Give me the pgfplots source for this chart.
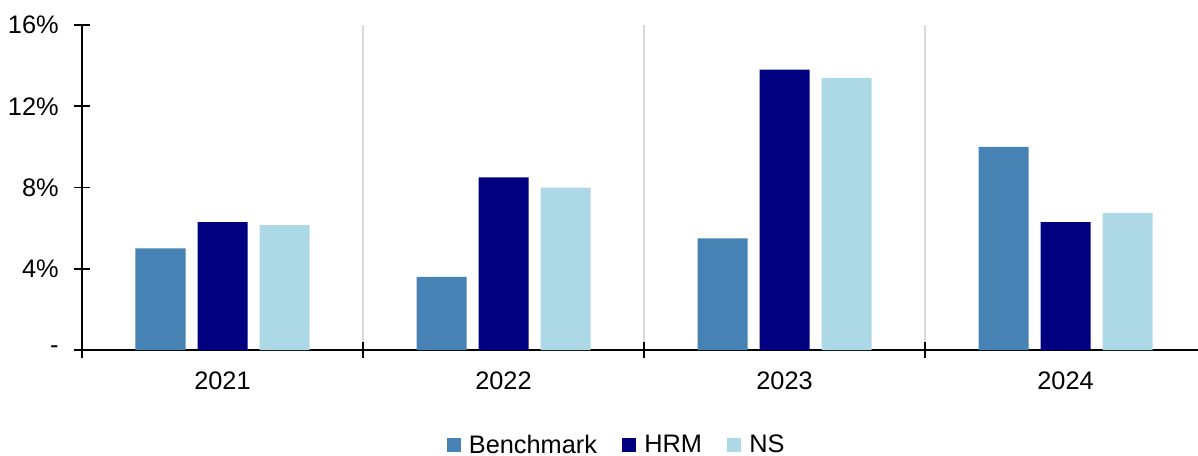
\documentclass[border=0pt]{standalone}
\usepackage{pgfplots}
\pgfplotsset{compat=1.18}
\usepackage{fontspec}
\setmainfont{Liberation Sans}
\definecolor{cBench}{RGB}{70,130,180}
\definecolor{cHRM}{RGB}{0,0,128}
\definecolor{cNS}{RGB}{173,216,230}
\definecolor{cGrid}{RGB}{217,217,217}
\newcommand{\cfont}{\fontsize{19}{22}\selectfont}
\begin{document}
\begin{tikzpicture}
\begin{axis}[
  scale only axis,
  width=843pt, height=243.75pt,
  xmin=-0.5, xmax=3.5,
  ymin=0, ymax=16,
  axis x line*=bottom, axis y line*=left,
  xtick pos=bottom, ytick pos=left,
  axis line style={-, line width=1.3pt, black},
  xtick={-0.5,0.5,1.5,2.5},
  xticklabels={},
  extra x ticks={0,1,2,3},
  extra x tick labels={2021,2022,2023,2024},
  extra x tick style={major tick length=0pt, grid=none},
  xmajorgrids=true,
  major grid style={cGrid, line width=1pt},
  ytick={0,4,8,12,16},
  yticklabels={-,4\%,8\%,12\%,16\%},
  major tick length=12pt,
  tick style={black, line width=1.3pt},
  /pgf/number format/assume math mode=true,
  every tick label/.append style={font=\cfont},
  xticklabel style={yshift=-13pt},
  yticklabel style={xshift=-8pt},
  ybar=9pt, bar width=37.5pt,
  legend style={draw=none, fill=none, inner sep=0pt, font=\cfont,
    at={(0.476,-0.292)}, anchor=center, legend columns=-1,
    /tikz/every odd column/.append style={column sep=4pt},
    /tikz/every even column/.append style={column sep=17pt},
    legend cell align=left},
  legend image code/.code={\path[#1, draw=none] (0pt,-5.25pt) rectangle (10.5pt,5.25pt);},
  xtick align=center, ytick align=center,
]
\addplot[fill=cBench, draw=none] coordinates {(0,5.0) (1,3.6) (2,5.5) (3,10.0)};
\addplot[fill=cHRM, draw=none] coordinates {(0,6.3) (1,8.5) (2,13.8) (3,6.3)};
\addplot[fill=cNS, draw=none] coordinates {(0,6.15) (1,8.0) (2,13.4) (3,6.75)};
\legend{Benchmark,HRM,NS}
\end{axis}
\pgfresetboundingbox
\useasboundingbox (-61.5pt,-78.75pt) rectangle (837pt,262.5pt);
\end{tikzpicture}
\end{document}
